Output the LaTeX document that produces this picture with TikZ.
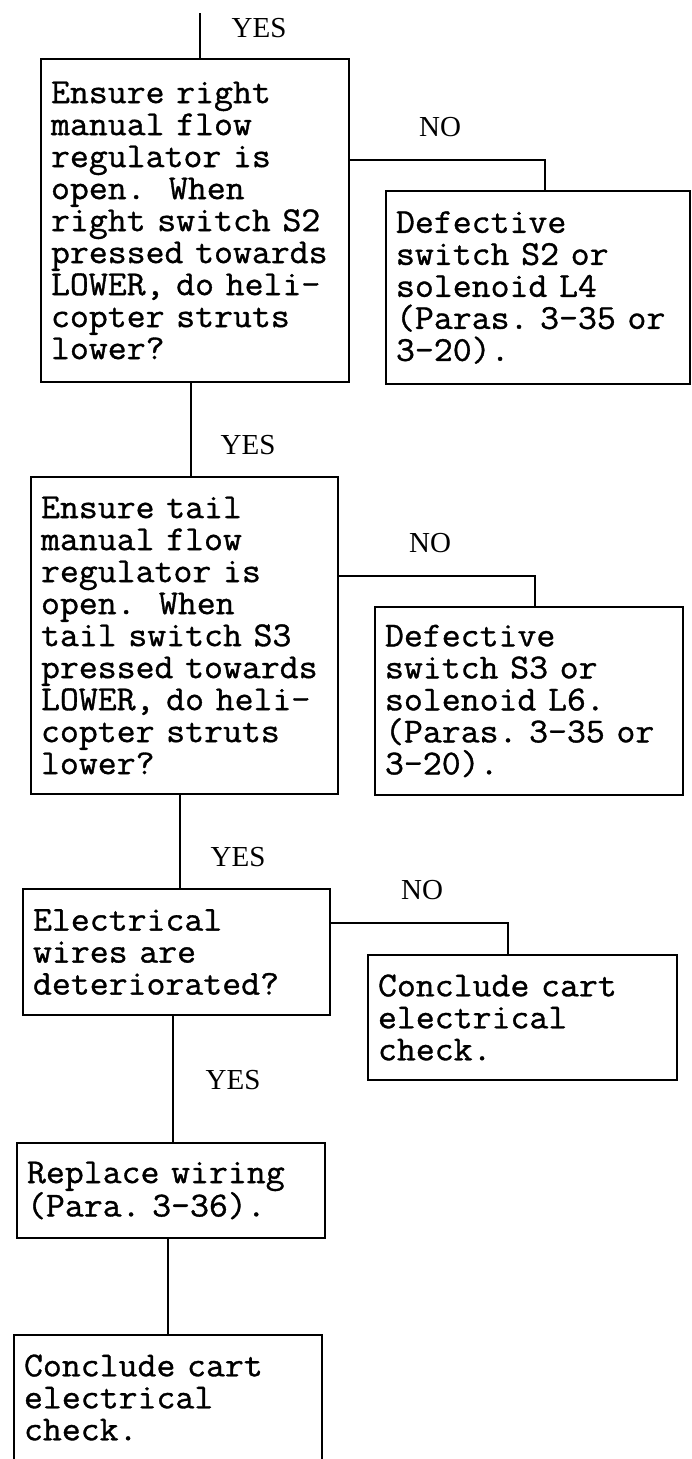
\documentclass[tikz,border=0pt]{standalone}
\usepackage{fontspec}
\setmonofont[FakeStretch=1.05,FakeBold=1]{Latin Modern Mono}
\newfontfamily\lblfont{Liberation Serif}
\newcommand\mfix{\spaceskip=\fontcharwd\font`x\relax\xspaceskip=\spaceskip}
\begin{document}
\begin{tikzpicture}[x=1pt,y=-1pt,
  box/.style={draw, line width=1.5pt, inner xsep=10pt, inner ysep=0pt, align=left,
    font=\fontsize{35}{32}\selectfont\ttfamily\frenchspacing\mfix},
  lbl/.style={font=\lblfont\fontsize{29}{29}\selectfont},
  conn/.style={line width=1.5pt}]
\useasboundingbox (0,0) rectangle (691,1459);

% boxes
\node[box, minimum width=308pt, minimum height=323pt, text width=288pt] (b1) at (195,220.5)
  {Ensure~right\\manual~flow\\regulator~is\\open.~~When\\right~switch~S2\\pressed~towards\\LOWER,~do~heli-\\copter~struts\\lower?};
\node[box, minimum width=304pt, minimum height=193pt, text width=284pt] (b2) at (538,287.5)
  {Defective\\switch~S2~or\\solenoid~L4\\(Paras.~3-35~or\\3-20).};
\node[box, minimum width=307pt, minimum height=317pt, text width=287pt] (b3) at (184.5,635.5)
  {Ensure~tail\\manual~flow\\regulator~is\\open.~~When\\tail~switch~S3\\pressed~towards\\LOWER,~do~heli-\\copter~struts\\lower?};
\node[box, minimum width=308pt, minimum height=188pt, text width=288pt] (b4) at (529,701)
  {Defective\\switch~S3~or\\solenoid~L6.\\(Paras.~3-35~or\\3-20).};
\node[box, minimum width=307pt, minimum height=126pt, text width=287pt] (b5) at (176.5,952)
  {Electrical\\wires~are\\deteriorated?};
\node[box, minimum width=309pt, minimum height=125pt, text width=289pt] (b6) at (522.5,1017.5)
  {Conclude~cart\\electrical\\check.};
\node[box, minimum width=308pt, minimum height=95pt, text width=288pt] (b7) at (171,1190.5)
  {Replace~wiring\\(Para.~3-36).};
\node[box, minimum width=308pt, minimum height=125pt, text width=288pt] (b8) at (168,1397.5)
  {Conclude~cart\\electrical\\check.};

% labels
\node[lbl] (y0) at (259,28) {YES};
\node[lbl] (y1) at (248,445) {YES};
\node[lbl] (y2) at (238,857) {YES};
\node[lbl] (y3) at (233,1080) {YES};
\node[lbl] (no1) at (440,127) {NO};
\node[lbl] (no2) at (430,543) {NO};
\node[lbl] (no3) at (422,890) {NO};

% connectors
\coordinate (s0) at (200,13);
\draw[conn] (s0) -- (s0 |- b1.north);
\draw[conn] ([xshift=-4pt]b1.south) -- ([xshift=-4pt]b1.south |- b3.north);
\draw[conn] ([xshift=-4.5pt]b3.south) -- ([xshift=-4.5pt]b3.south |- b5.north);
\draw[conn] ([xshift=-3.5pt]b5.south) -- ([xshift=-3.5pt]b5.south |- b7.north);
\draw[conn] ([xshift=-3pt]b7.south) -- ([xshift=-3pt]b7.south |- b8.north);

\coordinate (n1) at (545,160);
\draw[conn] (b1.east |- n1) -- (n1) -- (n1 |- b2.north);
\coordinate (n2) at (535,576);
\draw[conn] (b3.east |- n2) -- (n2) -- (n2 |- b4.north);
\coordinate (n3) at (508,923);
\draw[conn] (b5.east |- n3) -- (n3) -- (n3 |- b6.north);
\end{tikzpicture}
\end{document}
